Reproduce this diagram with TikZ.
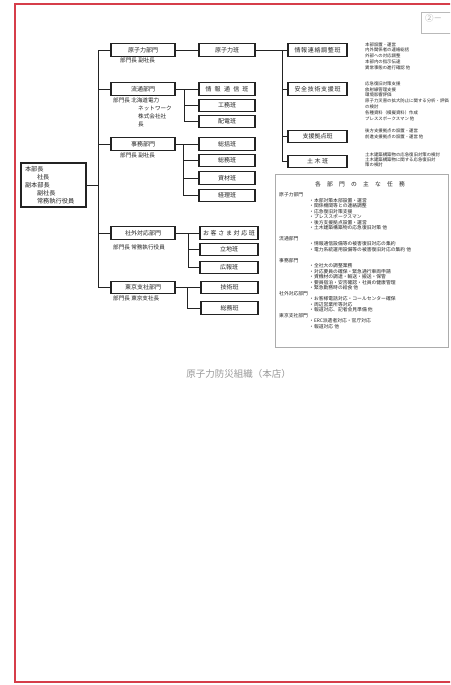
\documentclass[tikz,border=0pt]{standalone}
\usepackage{fontspec}
\setmainfont{Noto Sans CJK JP}
\newcommand{\fs}[2]{\fontsize{#1}{#2}\selectfont}
\newcommand{\spr}[2]{\makebox[#1][s]{#2}}
\definecolor{frame}{RGB}{214,62,74}
\definecolor{ink}{RGB}{35,35,35}
\begin{document}
\begin{tikzpicture}[x=1pt,y=-1pt,
  box/.style={draw=ink, line width=1.1pt, minimum height=12.5pt, inner sep=0pt, font=\fs{6}{6}, text=ink},
  dept/.style={box, minimum width=64pt},
  subb/.style={box, minimum width=56pt},
  third/.style={box, minimum width=59pt},
  lbl/.style={anchor=north west, align=left, inner sep=0pt, font=\fs{5.6}{8}, text=ink},
  desc/.style={anchor=north west, align=left, inner sep=0pt, font=\fs{4.4}{5.7}, text=ink},
  task/.style={anchor=north west, align=left, inner sep=0pt, font=\fs{4.8}{5.5}, text=ink},
  conn/.style={draw=ink, line width=0.9pt}
]
\useasboundingbox (0,0) rectangle (450,685);
\fill[white] (0,0) rectangle (450,685);
\clip (0,0) rectangle (450,685);
% page frame
\draw[line width=1.8pt, draw=frame] (15,4) rectangle (480,682);
% page label
\node[draw=gray!55, line width=0.8pt, fill=white, anchor=north west, minimum width=40pt, minimum height=21pt, inner sep=0pt] (pg) at (421,12) {};
\node[anchor=west, inner sep=0pt, font=\fs{8.5}{9}, text=gray!65] (pgt) at (425,18) {②－};

% coordinates for buses
\coordinate (bus) at (98,0);
\coordinate (b2) at (184,0);
\coordinate (b3) at (183,0);
\coordinate (b4) at (188,0);
\coordinate (b5) at (187,0);
\coordinate (bT) at (282,0);

% root
\node[box, minimum width=65pt, minimum height=44pt, text width=57pt, align=left, font=\fs{6.2}{8}] (root) at (53.5,185)
  {本部長\\\hspace*{12pt}社長\\副本部長\\\hspace*{12pt}副社長\\\hspace*{12pt}常務執行役員};

% departments
\node[dept] (d1) at (143,50) {原子力部門};
\node[dept] (d2) at (143,89) {流通部門};
\node[dept] (d3) at (143,144) {事務部門};
\node[dept] (d4) at (143,233) {社外対応部門};
\node[dept] (d5) at (143,287.5) {東京支社部門};

% department labels
\node[lbl] (l1) at (120,58) {部門長\ 副社長};
\node[lbl] (l2) at (113,97.5) {部門長\ 北海道電力\\\hspace*{25pt}ネットワーク\\\hspace*{25pt}株式会社社\\\hspace*{25pt}長};
\node[lbl] (l3) at (120,152.5) {部門長\ 副社長};
\node[lbl] (l4) at (113,244.5) {部門長\ 常務執行役員};
\node[lbl] (l5) at (113,295.5) {部門長\ 東京支社長};

% sub groups
\node[subb] (s0) at (227,50) {原子力班};
\node[subb] (s21) at (227,89) {\spr{43pt}{情\hfil 報\hfil 通\hfil 信\hfil 班}};
\node[subb] (s22) at (227,105.5) {工務班};
\node[subb] (s23) at (227,121.5) {配電班};
\node[subb] (s31) at (227,144) {総括班};
\node[subb] (s32) at (227,160.5) {総務班};
\node[subb] (s33) at (227,178) {資材班};
\node[subb] (s34) at (227,195.5) {経理班};
\node[subb, minimum width=58pt] (s41) at (229,233) {\spr{52pt}{お\hfil 客\hfil さ\hfil ま\hfil 対\hfil 応\hfil 班}};
\node[subb, minimum width=58pt] (s42) at (229,249.5) {立地班};
\node[subb, minimum width=58pt] (s43) at (229,267.5) {広報班};
\node[subb, minimum width=57pt] (s51) at (229.5,287.5) {技術班};
\node[subb, minimum width=57pt] (s52) at (229.5,308) {総務班};

% nuclear teams
\node[third] (t1) at (317.5,50) {\spr{46pt}{情\hfil 報\hfil 連\hfil 絡\hfil 調\hfil 整\hfil 班}};
\node[third] (t2) at (317.5,89) {\spr{46pt}{安\hfil 全\hfil 技\hfil 術\hfil 支\hfil 援\hfil 班}};
\node[third] (t3) at (317.5,136.5) {支援拠点班};
\node[third] (t4) at (317.5,161.5) {\spr{21pt}{土\hfil 木\hfil 班}};

% descriptions
\node[desc] (x1) at (365,42.3) {本部設置・運営\\内外関係者の連絡総括\\外部への対応調整\\本部内の指示伝達\\異常事態の進行確認\ 他};
\node[desc, font=\fs{4.4}{5.8}] (x2) at (365,81.3) {応急復旧対策支援\\放射線管理支援\\環境影響評価\\原子力災害の拡大防止に関する分析・評価\\の検討\\各種資料（模擬資料）作成\\プレススポークスマン\ 他};
\node[desc, font=\fs{4.4}{6}] (x3) at (365,128.3) {後方支援拠点の設置・運営\\前進支援拠点の設置・運営\ 他};
\node[desc, font=\fs{4.4}{5}] (x4) at (365,152.7) {土木建築構築物の応急復旧対策の検討\\土木建築構築物に関する応急復旧対\\策の検討};

% connectors: root level
\draw[conn] (root.east) -- (root.east -| bus);
\draw[conn] (d1.west) -| (bus |- d5.west) -- (d5.west);
\draw[conn] (d2.west) -- (d2.west -| bus);
\draw[conn] (d3.west) -- (d3.west -| bus);
\draw[conn] (d4.west) -- (d4.west -| bus);

% department to groups
\draw[conn] (d1.east) -- (s0.west);
\draw[conn] (d2.east) -- (s21.west);
\draw[conn] (b2 |- s21.west) |- (s23.west);
\draw[conn] (b2 |- s22.west) -- (s22.west);
\draw[conn] (d3.east) -- (s31.west);
\draw[conn] (b3 |- s31.west) |- (s34.west);
\draw[conn] (b3 |- s32.west) -- (s32.west);
\draw[conn] (b3 |- s33.west) -- (s33.west);
\draw[conn] (d4.east) -- (s41.west);
\draw[conn] (b4 |- s41.west) |- (s43.west);
\draw[conn] (b4 |- s42.west) -- (s42.west);
\draw[conn] (d5.east) -- (s51.west);
\draw[conn] (b5 |- s51.west) |- (s52.west);

% nuclear team connectors
\draw[conn] (s0.east) -- (t1.west);
\draw[conn] (bT |- t1.west) |- (t4.west);
\draw[conn] (bT |- t2.west) -- (t2.west);
\draw[conn] (bT |- t3.west) -- (t3.west);

% task box
\node[draw=gray!65, line width=1.3pt, anchor=north west, minimum width=173pt, minimum height=173pt, inner sep=0pt] (tb) at (275,174) {};
\node[inner sep=0pt, font=\fs{5.8}{6}, text=ink] (tt) at (360,184) {\spr{90pt}{各\hfil 部\hfil 門\hfil の\hfil 主\hfil な\hfil 任\hfil 務}};
\node[task] (g1) at (279,192.3) {原子力部門\\\hspace*{30pt}・本部対策本部設置・運営\\\hspace*{30pt}・関係機関等との連絡調整\\\hspace*{30pt}・応急復旧対策支援\\\hspace*{30pt}・プレススポークスマン\\\hspace*{30pt}・後方支援拠点設置・運営\\\hspace*{30pt}・土木建築構築物の応急復旧対策\ 他};
\node[task] (g2) at (279,236) {流通部門\\\hspace*{30pt}・情報通信設備等の被害復旧対応の集約\\\hspace*{30pt}・電力系統運用設備等の被害復旧対応の集約\ 他};
\node[task] (g3) at (279,258) {事務部門\\\hspace*{30pt}・全社大の調整業務\\\hspace*{30pt}・対応要員の確保・緊急通行車両申請\\\hspace*{30pt}・資機材の調達・輸送・搬送・保管\\\hspace*{30pt}・要員宿泊・安否確認・社員の健康管理\\\hspace*{30pt}・緊急勤務時の給食\ 他};
\node[task] (g4) at (279,290.8) {社外対応部門\\\hspace*{30pt}・お客様電話対応・コールセンター確保\\\hspace*{30pt}・周辺営業所等対応\\\hspace*{30pt}・報道対応、記者会見準備\ 他};
\node[task] (g5) at (279,312.8) {東京支社部門\\\hspace*{30pt}・ERC派遣者対応・官庁対応\\\hspace*{30pt}・報道対応\ 他};

% caption
\node[inner sep=0pt, font=\fs{9.5}{10}, text=gray!80] (cap) at (238.5,374) {原子力防災組織（本店）};
\end{tikzpicture}
\end{document}
